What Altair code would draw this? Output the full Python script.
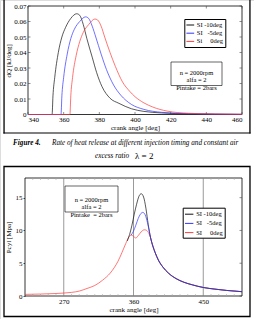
import altair as alt
import pandas as pd

FONT = "Liberation Serif"
NB = "\u00a0"

# ---------------- Figure 4: rate of heat release ----------------
hr_series = ["SI -10deg", "SI" + NB * 3 + "-5deg", "Si" + NB * 5 + "0deg"]
hr_colors = ["#111111", "#3333ff", "#ff3b3b"]

hr_angle_m10 = [340, 353.5, 354, 355, 357, 359, 361, 364, 367.3, 369, 371, 373, 376,
                378.5, 381.5, 386, 391, 398, 405, 415, 430, 460]
hr_dq_m10 = [0, 0, 0.012, 0.024, 0.040, 0.050, 0.056, 0.062, 0.065, 0.064, 0.058, 0.049,
             0.037, 0.027, 0.018, 0.0105, 0.0072, 0.0037, 0.002, 0.001, 0.0004, 0.0001]

hr_angle_m5 = [340, 358.5, 359, 360, 362, 364, 366, 369, 372.3, 374, 376, 378, 381, 384,
               388, 392, 398, 405, 415, 430, 460]
hr_dq_m5 = [0, 0, 0.012, 0.024, 0.039, 0.049, 0.055, 0.060, 0.063, 0.062, 0.057, 0.050,
            0.039, 0.029, 0.019, 0.0125, 0.0065, 0.0033, 0.0014, 0.0005, 0.0001]

hr_angle_0 = [340, 363.5, 364, 365, 367, 369, 371, 374, 377.5, 379, 381, 383, 386, 389,
              393, 397, 400, 405, 410, 418, 430, 445, 460]
hr_dq_0 = [0, 0, 0.012, 0.024, 0.038, 0.047, 0.053, 0.058, 0.0616, 0.061, 0.057, 0.050,
           0.040, 0.031, 0.021, 0.015, 0.0115, 0.0075, 0.0048, 0.0022, 0.0008, 0.0003, 0.0001]

hr_x_ticks = [340, 360, 380, 400, 420, 440, 460]
hr_y_ticks = [0, 0.01, 0.02, 0.03, 0.04, 0.05, 0.06, 0.07]

# ---------------- cylinder pressure ----------------
p_series = ["SI -10deg", "SI" + NB * 3 + "-5deg", "SI" + NB * 5 + "0deg"]
p_colors = ["#111111", "#3333ff", "#ff3b3b"]

p_angle_m10 = [352, 355, 358, 361, 364, 367, 370, 373, 376, 379, 382, 385, 388, 392, 398,
               405, 415, 425, 436, 450, 465, 480, 500]
p_val_m10 = [8.4, 9.4, 10.8, 12.5, 14.0, 15.2, 15.6, 15.1, 13.4, 10.9, 8.9, 7.6, 6.6, 5.5,
             4.4, 3.5, 2.65, 2.1, 1.7, 1.3, 1.05, 0.85, 0.66]

p_angle_m5 = [357, 360, 363, 366, 369, 372, 375, 378, 380, 382, 385, 388, 392, 398, 405,
              415, 425, 436, 450, 465, 480, 500]
p_val_m5 = [9.3, 9.9, 10.8, 11.8, 12.5, 12.75, 12.4, 11.2, 10.1, 8.9, 7.6, 6.6, 5.5, 4.4,
            3.5, 2.65, 2.1, 1.7, 1.3, 1.05, 0.85, 0.66]

p_angle_0 = [220, 240, 260, 270, 280, 290, 300, 310, 320, 330, 335, 340, 345, 350, 354,
             357, 360, 363, 366, 370, 374, 377, 380, 382, 385, 388, 392, 398, 405, 415,
             425, 436, 450, 465, 480, 500]
p_val_0 = [0.25, 0.3, 0.38, 0.45, 0.55, 0.75, 1.15, 1.6, 2.4, 3.5, 4.3, 5.3, 6.6, 8.0, 9.0,
           9.3, 9.1, 8.85, 9.2, 9.8, 10.1, 10.0, 9.5, 8.9, 7.6, 6.6, 5.5, 4.4, 3.5, 2.65,
           2.1, 1.7, 1.3, 1.05, 0.85, 0.66]

p_x_ticks = [270, 360, 450]
p_x_minor = [230, 240, 250, 260, 280, 290, 300, 310, 320, 330, 340, 350, 370, 380, 390,
             400, 410, 420, 430, 440, 460, 470, 480, 490]
p_y_ticks = [0, 5, 10, 15]

annot_lines = "n = 2000rpm\nalfa = 2\nPintake = 2bars"
annot_lines2 = "n = 2000rpm\nalfa = 2\nPintake" + NB + " = 2bars"

cap1_bold = "Figure 4."
cap1_rest = "Rate of heat release at different injection timing and constant air"
cap2_text = "excess ratio"
cap2_sym = "\u03bb = 2"

# ---------------- layout (canvas pixels) ----------------
CW, CH = 254, 319
TOP_X = [28, 242]
TOP_Y = [114.5, 6]
BOT_X = [25, 242]
BOT_Y = [296, 178]
TICK = 2.5


def frame_df(series, angles, values):
    rows = []
    for s, a, v in zip(series, angles, values):
        for i, (x, y) in enumerate(zip(a, v)):
            rows.append({"series": s, "angle": x, "val": y, "idx": i})
    return pd.DataFrame(rows)


df_hr = frame_df(hr_series, [hr_angle_m10, hr_angle_m5, hr_angle_0],
                 [hr_dq_m10, hr_dq_m5, hr_dq_0])
df_p = frame_df(p_series, [p_angle_m10, p_angle_m5, p_angle_0],
                [p_val_m10, p_val_m5, p_val_0])
df_grid = pd.DataFrame({"angle": p_x_ticks})
df_minor = pd.DataFrame({"angle": p_x_minor})
df_hr_xt = pd.DataFrame({"angle": hr_x_ticks})
df_hr_yt = pd.DataFrame({"val": hr_y_ticks})
df_p_yt = pd.DataFrame({"val": p_y_ticks})

one = alt.Data(values=[{"k": 1}])


def legend(x, y, size):
    return alt.Legend(orient="none", legendX=x, legendY=y, title=None,
                      strokeColor="black", fillColor="white", padding=1.5,
                      symbolType="stroke", symbolSize=size, symbolStrokeWidth=1,
                      labelFont=FONT, labelFontSize=6.5, labelOffset=2,
                      rowPadding=0.2, labelLimit=120)


def box(x0, x1, y0, y1, sw, fill=None):
    kw = dict(stroke="black", strokeWidth=sw)
    if fill:
        m = alt.Chart(one).mark_rect(fill=fill, **kw)
    else:
        m = alt.Chart(one).mark_rect(filled=False, **kw)
    return m.encode(x=alt.value(x0), x2=alt.value(x1), y=alt.value(y0), y2=alt.value(y1))


def bar(x0, x1, y0, y1):
    return alt.Chart(one).mark_rect(fill="black").encode(
        x=alt.value(x0), x2=alt.value(x1), y=alt.value(y0), y2=alt.value(y1))


def text(x, y, s, **kw):
    return alt.Chart(one).mark_text(font=FONT, **kw).encode(
        x=alt.value(x), y=alt.value(y), text=alt.value(s))


axis_common = dict(labelFont=FONT, labelFontSize=7, titleFont=FONT, titleFontSize=7,
                   titleFontWeight="normal", labelColor="black", titleColor="black",
                   domain=False)
LW = 0.7

# ---------- top chart ----------
x1 = alt.X("angle:Q", scale=alt.Scale(domain=[340, 460], range=TOP_X, nice=False, zero=False),
           axis=alt.Axis(orient="bottom", offset=TOP_Y[0] - CH, values=hr_x_ticks,
                         title="crank angle [deg]", grid=False, tickSize=0,
                         labelPadding=0.5, titlePadding=1, **axis_common))
y1 = alt.Y("val:Q", scale=alt.Scale(domain=[0, 0.07], range=TOP_Y, nice=False),
           axis=alt.Axis(orient="left", offset=-TOP_X[0], values=hr_y_ticks,
                         title="dQ [kJ/deg]", grid=False, tickSize=0, labelPadding=2,
                         titlePadding=2,
                         labelExpr="datum.value == 0 ? '0' : format(datum.value, '.2f')",
                         **axis_common))
c1 = alt.Color("series:N", scale=alt.Scale(domain=hr_series, range=hr_colors),
               legend=legend(184.3, 19, 60))
tick_style = dict(stroke="#444444", strokeWidth=0.6)
top_ticks = [
    alt.Chart(df_hr_xt).mark_rule(**tick_style).encode(
        x=x1, y=alt.value(TOP_Y[0]), y2=alt.value(TOP_Y[0] - TICK)),
    alt.Chart(df_hr_xt).mark_rule(**tick_style).encode(
        x=x1, y=alt.value(TOP_Y[1]), y2=alt.value(TOP_Y[1] + TICK)),
    alt.Chart(df_hr_yt).mark_rule(**tick_style).encode(
        y=y1, x=alt.value(TOP_X[0]), x2=alt.value(TOP_X[0] + TICK)),
    alt.Chart(df_hr_yt).mark_rule(**tick_style).encode(
        y=y1, x=alt.value(TOP_X[1]), x2=alt.value(TOP_X[1] - TICK)),
]
top_group = alt.layer(*top_ticks, *[
    alt.Chart(df_hr).transform_filter(alt.datum.series == s)
    .mark_line(strokeWidth=LW, interpolate="monotone")
    .encode(x=x1, y=y1, color=c1, order="idx:Q")
    for s in hr_series
])

# ---------- bottom chart ----------
x2 = alt.X("angle:Q", scale=alt.Scale(domain=[220, 500], range=BOT_X, nice=False, zero=False),
           axis=alt.Axis(orient="bottom", offset=BOT_Y[0] - CH, values=p_x_ticks,
                         title="crank angle [deg]", grid=False, tickSize=0,
                         labelPadding=1.5, titlePadding=0.5, **axis_common))
y2 = alt.Y("val:Q", scale=alt.Scale(domain=[0, 18], range=BOT_Y, nice=False),
           axis=alt.Axis(orient="left", offset=-BOT_X[0], values=p_y_ticks,
                         title="Pcyl [Mpa]", grid=False, tickSize=2, tickColor="#555555",
                         labelPadding=1, titlePadding=3.5, **axis_common))
c2 = alt.Color("series:N", scale=alt.Scale(domain=p_series, range=p_colors),
               legend=legend(182.7, 207.7, 70))
order_bottom = [p_series[2], p_series[0], p_series[1]]
minor_style = dict(stroke="#aaaaaa", strokeWidth=0.6)
bot_marks = [
    alt.Chart(df_grid).mark_rule(stroke="#808080", strokeWidth=0.8).encode(
        x=x2, y=alt.value(BOT_Y[1]), y2=alt.value(BOT_Y[0])),
    alt.Chart(df_minor).mark_rule(**minor_style).encode(
        x=x2, y=alt.value(BOT_Y[1]), y2=alt.value(BOT_Y[1] + 2)),
    alt.Chart(df_minor).mark_rule(**minor_style).encode(
        x=x2, y=alt.value(BOT_Y[0]), y2=alt.value(BOT_Y[0] - 2)),
    alt.Chart(df_p_yt).mark_rule(**tick_style).encode(
        y=y2, x=alt.value(BOT_X[1]), x2=alt.value(BOT_X[1] - TICK)),
]
bottom_group = alt.layer(*bot_marks, *[
    alt.Chart(df_p).transform_filter(alt.datum.series == s)
    .mark_line(strokeWidth=LW, interpolate="monotone")
    .encode(x=x2, y=y2, color=c2, order="idx:Q")
    for s in order_bottom
])

# ---------- decorations ----------
under = [
    box(TOP_X[0], TOP_X[1], TOP_Y[1], TOP_Y[0], 0.8, fill="white"),
    box(BOT_X[0], BOT_X[1], BOT_Y[1], BOT_Y[0], 0.8, fill="white"),
]
over = [
    box(171, 222, 62, 85.5, 0.6, fill="white"),
    text(196.5, 73.2, annot_lines, fontSize=6.5, lineBreak="\n", baseline="middle",
         align="center", lineHeight=7.3),
    box(65, 118, 186, 212, 0.6, fill="white"),
    text(91.5, 199.5, annot_lines2, fontSize=6.5, lineBreak="\n", baseline="middle",
         align="center", lineHeight=7.8),
    # outer figure frames
    bar(3.4, 4.7, 0, 133.6),
    bar(249.3, 250.6, 0, 133.6),
    bar(3.4, 250.6, 132.4, 133.6),
    box(4, 250, 166.5, 316.5, 1.3),
    # caption
    text(13, 143, cap1_bold, fontSize=7.2, fontWeight="bold", fontStyle="italic",
         baseline="middle", align="left"),
    text(52, 143, cap1_rest, fontSize=7.2, fontStyle="italic", baseline="middle",
         align="left"),
    text(95, 156, cap2_text, fontSize=7.2, fontStyle="italic", baseline="middle",
         align="left"),
    text(135, 156, cap2_sym, fontSize=9, baseline="middle", align="left"),
]

chart = alt.layer(*under, top_group, bottom_group, *over).resolve_scale(
    x="independent", y="independent", color="independent"
).properties(
    width=CW, height=CH, padding=0, autosize=alt.AutoSizeParams(type="none")
).configure_view(stroke=None).configure(background="white")

chart.save("out.html", embed_options={"renderer": "svg", "actions": False})
